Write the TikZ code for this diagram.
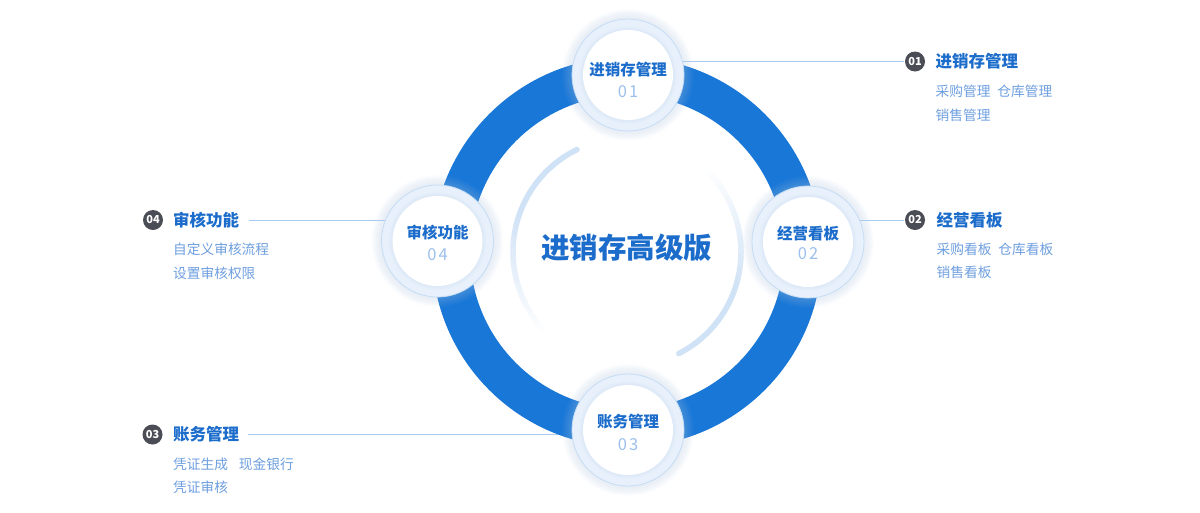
\documentclass[tikz,border=0pt]{standalone}
\usepackage{fontspec}
\setmainfont{Noto Sans CJK SC}
\definecolor{ringblue}{HTML}{1977D7}
\definecolor{titleblue}{HTML}{1C6DCB}
\definecolor{subblue}{HTML}{6E9FDF}
\definecolor{numblue}{HTML}{9CC0EB}
\definecolor{badgegray}{HTML}{4A4D55}
\definecolor{bandblue}{HTML}{E8F1FB}
\definecolor{borderblue}{HTML}{C6DCF5}
\definecolor{arcblue}{HTML}{D0E2F6}
\definecolor{connblue}{HTML}{AACBEF}
\definecolor{glowblue}{HTML}{B5D2F4}
\begin{document}
\begin{tikzpicture}[x=1pt,y=-1pt,
  ttl/.style={font=\fontsize{16.5}{18}\selectfont\bfseries, text=titleblue, inner sep=0pt, anchor=west},
  sub/.style={font=\fontsize{13.7}{15}\selectfont, text=subblue, inner sep=0pt, anchor=west},
  badge/.style={circle, fill=badgegray, minimum size=20pt, inner sep=0pt, text=white, font=\fontsize{11}{12}\selectfont\bfseries},
  bigc/.style={circle, fill=bandblue, draw=borderblue, line width=0.8pt, minimum size=112pt, inner sep=0pt},
  ctl/.style={font=\fontsize{15.5}{17}\selectfont\bfseries, text=titleblue, inner sep=0pt},
  cnum/.style={font=\fontsize{16.5}{18}\selectfont, text=numblue, inner sep=0pt},
  conn/.style={draw=connblue, line width=0.8pt},
  ringstyle/.style={draw=ringblue, line width=38pt}
]
\useasboundingbox (0,0) rectangle (1200,512);
\fill[white] (0,0) rectangle (1200,512);

\coordinate (o) at (627,252);

% side labels
\node[badge] (b1) at (915,61.5) {01};
\node[ttl] (h1) at (935.5,61.5) {进销存管理};
\node[sub] (s1a) at (935.5,91.5) {采购管理\hspace{7pt}仓库管理};
\node[sub] (s1b) at (935.5,115.5) {销售管理};

\node[badge] (b2) at (915,220) {02};
\node[ttl] (h2) at (936.5,220) {经营看板};
\node[sub] (s2a) at (936.5,249.5) {采购看板\hspace{7pt}仓库看板};
\node[sub] (s2b) at (936.5,272.5) {销售看板};

\node[badge] (b4) at (153,220) {04};
\node[ttl] (h4) at (173,220) {审核功能};
\node[sub] (s4a) at (173,249.5) {自定义审核流程};
\node[sub] (s4b) at (173,273) {设置审核权限};

\node[badge] (b3) at (152.5,434.5) {03};
\node[ttl] (h3) at (173,434) {账务管理};
\node[sub] (s3a) at (173,464) {凭证生成\hspace{11pt}现金银行};
\node[sub] (s3b) at (173,487) {凭证审核};

% circle coordinates
\coordinate (p1) at (628,75);
\coordinate (p2) at (808,242);
\coordinate (p4) at (437.5,241);
\coordinate (p3) at (628,430);

% connectors
\draw[conn] ([xshift=-1pt]b1.west) -- ([xshift=-1pt]b1.west -| p1);
\draw[conn] ([xshift=-1pt]b2.west) -- ([xshift=-1pt]b2.west -| p2);
\draw[conn] ([xshift=10pt]h4.east) -- ([xshift=10pt]h4.east -| p4);
\draw[conn] ([xshift=9pt]h3.east) -- ([xshift=9pt]h3.east -| p3);

% main ring
\draw[ringstyle] (o) circle (176);

% inner arcs
\foreach \i in {0,...,54} {
  \pgfmathsetmacro\a{116+2*\i}
  \pgfmathsetmacro\b{\a+2.3}
  \pgfmathtruncatemacro\p{max(0,min(100,100*(1-\i/54)/0.6))}
  \draw[line width=5.5pt, arcblue!\p!white] plot[domain=\a:\b, samples=4] ({627+114*cos(\x)},{252-114*sin(\x)});
}
\fill[arcblue] ({627+114*cos(116)},{252-114*sin(116)}) circle (2.75);
\foreach \i in {0,...,54} {
  \pgfmathsetmacro\a{-63+2*\i}
  \pgfmathsetmacro\b{\a+2.3}
  \pgfmathtruncatemacro\p{max(0,min(100,100*(1-\i/54)/0.6))}
  \draw[line width=5.5pt, arcblue!\p!white] plot[domain=\a:\b, samples=4] ({627+114*cos(\x)},{252-114*sin(\x)});
}
\fill[arcblue] ({627+114*cos(-63)},{252-114*sin(-63)}) circle (2.75);

\node[font=\fontsize{28.5}{30}\selectfont\bfseries, text=titleblue, inner sep=0pt] (main) at (626.5,248) {进销存高级版};

% glows
\foreach \p in {p1,p2,p3,p4} {
  \foreach \r in {57,58,...,66} {
    \fill[glowblue, opacity=0.03] (\p) circle (\r);
  }
}

% small circles
\node[bigc] (c1) at (p1) {};
\node[bigc] (c2) at (p2) {};
\node[bigc] (c4) at (p4) {};
\node[bigc] (c3) at (p3) {};
\foreach \p in {p1,p2,p3,p4} {
  \foreach \r in {46,47,48,49} {
    \fill[borderblue, opacity=0.08] (\p) circle (\r);
  }
  \fill[white] (\p) circle (45);
}

\node[ctl] (t1) at (628,70) {进销存管理};
\node[cnum] (n1) at (628,92) {0\hspace{2pt}1};
\node[ctl] (t2) at (808,234) {经营看板};
\node[cnum] (n2) at (808,254) {0\hspace{2pt}2};
\node[ctl] (t4) at (437.5,233) {审核功能};
\node[cnum] (n4) at (437.5,255) {0\hspace{2pt}4};
\node[ctl] (t3) at (628,422) {账务管理};
\node[cnum] (n3) at (628,445) {0\hspace{2pt}3};
\end{tikzpicture}
\end{document}
